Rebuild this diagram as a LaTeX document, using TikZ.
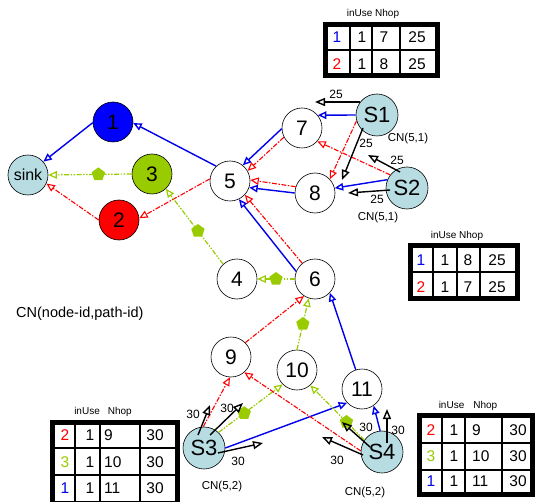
\documentclass[tikz,border=0pt]{standalone}
\usepackage{fontspec}
\setmainfont{Liberation Sans}
\usetikzlibrary{arrows.meta,shapes.geometric,calc}
\definecolor{lcyan}{RGB}{183,221,227}
\definecolor{pblue}{RGB}{0,0,235}
\definecolor{pgreen}{RGB}{153,204,0}
\definecolor{pred}{RGB}{255,0,0}
\newcommand{\fsz}[1]{\fontsize{#1}{#1}\selectfont}
\begin{document}
\begin{tikzpicture}[x=1pt,y=-1pt,
 nd/.style={circle,draw=black,line width=0.6pt,minimum size=40pt,inner sep=0pt,fill=white,font=\fsz{21}},
 snd/.style={nd,fill=lcyan,minimum size=42pt,font=\fsz{22}},
 tipc/.style={-{Triangle[open,length=8.5pt,width=7.5pt]}},
 be/.style={draw=pblue,line width=1.4pt,tipc},
 re/.style={draw=pred,line width=1.1pt,dash pattern=on 5pt off 1.5pt on 1.5pt off 1.5pt,tipc},
 ge/.style={draw=pgreen,line width=1.2pt,dash pattern=on 5pt off 1.5pt on 1.5pt off 1.5pt on 1.5pt off 1.5pt,tipc},
 pent/.style={regular polygon,regular polygon sides=5,fill=pgreen,draw=none,minimum size=14pt,inner sep=0pt},
 blk/.style={draw=black,line width=1.4pt,-{Triangle[open,length=10pt,width=8pt]}},
 lbl/.style={font=\fsz{12},inner sep=0pt},
 cnl/.style={font=\fsz{11.5},inner sep=0pt},
 ttl/.style={font=\fsz{10},inner sep=0pt},
 tv/.style={font=\fsz{15.5},inner sep=0pt},
 tframe/.style={draw=black,line width=5pt},
 tgrid/.style={draw=black,line width=2.5pt}]
\useasboundingbox (0,0) rectangle (537,502);

% nodes
\node[snd,minimum size=40pt,font=\fsz{16}] (sink) at (28,175) {sink};
\node[nd,fill=blue] (n1) at (113,122) {1};
\node[nd,fill=pgreen] (n3) at (152,174) {3};
\node[nd,fill=red] (n2) at (119,220) {2};
\node[nd] (n5) at (230,181) {5};
\node[nd] (n4) at (237,279) {4};
\node[nd] (n7) at (302,128) {7};
\node[snd] (S1) at (377,115) {S1};
\node[nd] (n8) at (315,193) {8};
\node[snd] (S2) at (407,188) {S2};
\node[nd] (n6) at (315,279) {6};
\node[nd] (n9) at (231,357) {9};
\node[nd] (n10) at (297,370) {10};
\node[nd] (n11) at (362,389) {11};
\node[snd] (S3) at (204,448) {S3};
\node[snd] (S4) at (382,452) {S4};

% coloured edges
\draw[be] (n1.182) -- (sink.41);
\draw[be] (n5.133) -- (n1.357);
\draw[ge] (n3.west) -- node[pent,pos=0.4]{} (sink.east);
\draw[re] (n2.west) -- (sink.335);
\draw[re] (n5.174) -- (n2.5);
\draw[ge] (n4.133) -- node[pent,pos=0.44]{} (n3.313);
\draw[ge] (n6.west) -- node[pent,pos=0.5]{} (n4.east);
\draw[be] (n7.182) -- (n5.51);
\draw[re] (n7.207) -- (n5.30);
\draw[re] (n8.162) -- (n5.3);
\draw[be] (n8.180) -- (n5.341);
\draw[be] (n6.158) -- (n5.296);
\draw[re] (n6.129) -- (n5.317);
\draw[be] (S1.west) -- (n7.39);
\draw[re] (S1.196) -- (n8.43);
\draw[re] (S2.142) -- (n7.319);
\draw[be] (S2.157) -- (n8.14);
\draw[re] (n9.45) -- (n6.237);
\draw[ge] (n10.north) -- node[pent]{} (n6.252);
\draw[be] (n11.108) -- (n6.317);
\draw[re] (S3.92) -- (n9.267);
\draw[ge] (S3.47) -- node[pent,pos=0.4]{} (n10.225);
\draw[be] (S3.east) -- (n11.223);
\draw[re] (S4.177) -- (n9.311);
\draw[ge] (S4.146) -- node[pent,pos=0.33]{} (n10.311);
\draw[be] (S4.95) -- (n11.305);

% black arrows
\coordinate (a1s) at ($(S1)+(-17,-13)$); \coordinate (a1t) at (315,102);
\coordinate (a2s) at ($(S1)+(-14,13)$);  \coordinate (a2t) at (342,180);
\coordinate (a3s) at ($(S2)+(-7,-16)$);  \coordinate (a3t) at (368,155);
\coordinate (a4s) at ($(S2)+(-17,2)$);   \coordinate (a4t) at (348,193);
\coordinate (a5s) at ($(S3)+(-6,-13)$);  \coordinate (a5t) at (210,405);
\coordinate (a6s) at ($(S3)+(6,-13)$);   \coordinate (a6t) at (243,403);
\coordinate (a7s) at ($(S3)+(14,5)$);    \coordinate (a7t) at (263,443);
\coordinate (a8s) at ($(S4)+(5,-9)$);    \coordinate (a8t) at (387,409);
\coordinate (a9s) at ($(S4)+(-12,-5)$);  \coordinate (a9t) at (342,422);
\coordinate (a10s) at ($(S4)+(-19,3)$);  \coordinate (a10t) at (322,437);
\foreach \i in {1,...,10} {\draw[blk] (a\i s) -- (a\i t);}
\node[lbl] (l1) at (336,94) {25};
\node[lbl] (l2) at (366,143) {25};
\node[lbl] (l3) at (397,160) {25};
\node[lbl] (l4) at (377,199) {25};
\node[lbl] (l5) at (193,414) {30};
\node[lbl] (l6) at (227,408) {30};
\node[lbl] (l7) at (238,461) {30};
\node[lbl] (l8) at (398,430) {30};
\node[lbl] (l9) at (366,427) {30};
\node[lbl] (l10) at (337,460) {30};

% CN labels
\node[cnl] (c1) at (408,139) {CN(5,1)};
\node[cnl] (c2) at (378,218) {CN(5,1)};
\node[cnl] (c3) at (222,487) {CN(5,2)};
\node[cnl] (c4) at (365,493) {CN(5,2)};
\node[font=\fsz{14.5},inner sep=0pt,anchor=west] (cnleg) at (16,314) {CN(node-id,path-id)};

% table 1
\draw[tgrid] (350,22) -- (350,78) (372,22) -- (372,78) (400,22) -- (400,78) (323,50) -- (440,50);
\draw[tframe] (325.5,24.5) rectangle (437.5,75.5);
\node[ttl] (tt1) at (373,14) {inUse Nhop};
\node[tv,pblue] (t1a) at (337,37) {1}; \node[tv] (t1b) at (362,37) {1}; \node[tv] (t1c) at (384,37) {7}; \node[tv] (t1d) at (417,37) {25};
\node[tv,pred] (t1e) at (337,64) {2}; \node[tv] (t1f) at (362,64) {1}; \node[tv] (t1g) at (384,64) {8}; \node[tv] (t1h) at (417,64) {25};

% table 2
\draw[tgrid] (433,243) -- (433,301) (457,243) -- (457,301) (480,243) -- (480,301) (408,272) -- (520,272);
\draw[tframe] (410.5,245.5) rectangle (517.5,298.5);
\node[ttl] (tt2) at (457,236) {inUse Nhop};
\node[tv,pblue] (t2a) at (421,260) {1}; \node[tv] (t2b) at (445,260) {1}; \node[tv] (t2c) at (468,260) {8}; \node[tv] (t2d) at (497,260) {25};
\node[tv,pred] (t2e) at (421,287) {2}; \node[tv] (t2f) at (445,287) {1}; \node[tv] (t2g) at (468,287) {7}; \node[tv] (t2h) at (497,287) {25};

% table 3
\draw[tgrid] (75,420) -- (75,503) (100,420) -- (100,503) (140,420) -- (140,503) (50,448) -- (180,448) (50,475) -- (180,475);
\draw[tframe] (52.5,422.5) rectangle (177.5,503);
\node[ttl] (tt3) at (103,412) {inUse\hspace{8pt}Nhop};
\node[tv,pred] (t3a) at (65,435) {2}; \node[tv] (t3b) at (90,435) {1}; \node[tv,anchor=west] (t3c) at (104,435) {9}; \node[tv] (t3d) at (155,435) {30};
\node[tv,pgreen] (t3e) at (65,462) {3}; \node[tv] (t3f) at (90,462) {1}; \node[tv,anchor=west] (t3g) at (104,462) {10}; \node[tv] (t3h) at (155,462) {30};
\node[tv,pblue] (t3i) at (65,488) {1}; \node[tv] (t3j) at (90,488) {1}; \node[tv,anchor=west] (t3k) at (104,488) {11}; \node[tv] (t3l) at (155,488) {30};

% table 4
\draw[tgrid] (442,413) -- (442,497) (465,413) -- (465,497) (502,413) -- (502,497) (417,443) -- (535,443) (417,470) -- (535,470);
\draw[tframe] (419.5,415.5) rectangle (532.5,494.5);
\node[ttl] (tt4) at (468,406) {inUse\hspace{9pt}Nhop};
\node[tv,pred] (t4a) at (431,430) {2}; \node[tv] (t4b) at (454,430) {1}; \node[tv,anchor=west] (t4c) at (472,430) {9}; \node[tv] (t4d) at (518,430) {30};
\node[tv,pgreen] (t4e) at (431,456) {3}; \node[tv] (t4f) at (454,456) {1}; \node[tv,anchor=west] (t4g) at (472,456) {10}; \node[tv] (t4h) at (518,456) {30};
\node[tv,pblue] (t4i) at (431,481) {1}; \node[tv] (t4j) at (454,481) {1}; \node[tv,anchor=west] (t4k) at (472,481) {11}; \node[tv] (t4l) at (518,481) {30};
\end{tikzpicture}
\end{document}
